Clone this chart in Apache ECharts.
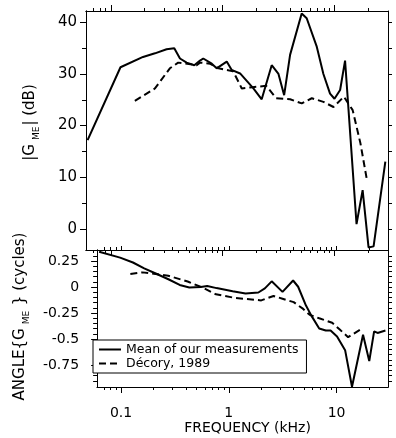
<!DOCTYPE html>
<html><head><meta charset="utf-8">
<script src="https://cdn.jsdelivr.net/npm/echarts@6/dist/echarts.min.js"></script>
<style>html,body{margin:0;padding:0;background:#fff}#c{width:396px;height:438px}</style>
</head><body><div id="c"></div>
<script>
// ---- data (frequency in kHz) ----
const gainFreqOurs = [0.062,0.122,0.194,0.248,0.315,0.369,0.415,0.476,0.557,0.627,0.67,0.798,0.883,1.086,1.2,1.43,1.88,2.23,2.74,3.15,3.54,4.0,5.08,5.63,6.9,7.94,9.1,9.97,11.2,12.4,15.7,17.8,20.1,22.3,28.4];
const gainOurs     = [17.2,31.3,33.3,34.0,34.8,35.0,33.0,32.2,31.7,32.6,33.0,32.0,31.1,32.4,30.8,30.1,27.2,25.1,31.7,30.0,25.9,33.7,41.7,40.8,35.4,30.0,26.2,25.2,26.9,32.6,0.9,7.5,-3.6,-3.4,13.0];
const gainFreqDecory = [0.164,0.248,0.337,0.40,0.585,0.627,0.77,0.916,1.24,1.48,1.76,2.45,3.0,4.0,5.08,6.25,7.94,9.77,12.1,14.5,17.0,19.5];
const gainDecory     = [24.8,27.2,31.1,32.2,31.7,32.2,32.0,31.1,30.5,27.2,27.4,27.7,25.3,25.1,24.3,25.3,24.6,23.6,25.6,23.0,16.6,9.3];
const phaseFreqOurs = [0.0626,0.098,0.129,0.164,0.21,0.275,0.35,0.43,0.55,0.63,0.77,1.086,1.43,1.88,2.16,2.5,3.15,3.95,4.4,5.2,5.85,6.9,7.94,8.8,10.1,12.0,13.9,17.6,20.1,22.3,24.0,28.4];
const phaseOurs     = [0.339,0.283,0.236,0.18,0.13,0.075,0.02,-0.005,0.0,0.01,-0.01,-0.04,-0.062,-0.052,-0.013,0.055,-0.046,0.063,0.003,-0.178,-0.277,-0.398,-0.418,-0.418,-0.474,-0.606,-0.958,-0.458,-0.711,-0.425,-0.441,-0.418];
const phaseFreqDecory = [0.122,0.158,0.209,0.274,0.415,0.585,0.76,1.15,2.0,2.6,3.15,4.0,4.9,5.63,6.9,9.1,10.7,12.8,16.6];
const phaseDecory     = [0.125,0.141,0.125,0.109,0.053,-0.01,-0.07,-0.105,-0.128,-0.086,-0.112,-0.145,-0.21,-0.267,-0.30,-0.343,-0.408,-0.481,-0.408];

// ---- ticks / labels ----
const freqTickLabels = [0.1, 1, 10];
const freqMinorTicks = [0.07,0.08,0.09,0.2,0.3,0.4,0.5,0.6,0.7,0.8,0.9,2,3,4,5,6,7,8,9,20];
const gainTickLabels = [0,10,20,30,40];
const gainMinorTicks = [5,15,25,35];
const gainRightTicks = [0,5,10,15,20,25,30,35,40];
const phaseTickLabels = [-0.75,-0.5,-0.25,0,0.25];
const phaseMinorTicks = [-0.9,-0.85,-0.8,-0.7,-0.65,-0.6,-0.55,-0.45,-0.4,-0.35,-0.3,-0.2,-0.15,-0.1,-0.05,0.05,0.1,0.15,0.2,0.3];
const phaseRightTicks = [-0.9,-0.85,-0.8,-0.75,-0.7,-0.65,-0.6,-0.55,-0.5,-0.45,-0.4,-0.35,-0.3,-0.25,-0.2,-0.15,-0.1,-0.05,0,0.05,0.1,0.15,0.2,0.25,0.3];

const FONT = 'DejaVu Sans';
const lg = Math.log10;
const fMin = lg(0.06), fMax = lg(30);
const pairs = (fs, vs) => fs.map((f, i) => [lg(f), vs[i]]);

function xAx(grid, pos, ticks, len, extra) {
  return Object.assign({
    type: 'value', gridIndex: grid, position: pos, min: fMin, max: fMax,
    axisLine: {show: true, onZero: false, lineStyle: {color: '#000', width: 1}},
    axisTick: {show: true, length: len, customValues: ticks.map(lg), lineStyle: {color: '#000', width: 1}},
    axisLabel: {show: false}, splitLine: {show: false}
  }, extra || {});
}
function yAx(grid, pos, mn, mx, ticks, len, extra) {
  return Object.assign({
    type: 'value', gridIndex: grid, position: pos, min: mn, max: mx,
    axisLine: {show: true, onZero: false, lineStyle: {color: '#000', width: 1}},
    axisTick: {show: true, length: len, customValues: ticks, lineStyle: {color: '#000', width: 1}},
    axisLabel: {show: false}, splitLine: {show: false}
  }, extra || {});
}

const gMin = -4.1, gMax = 42.2, pMin = -0.96, pMax = 0.356;
const titleRich = {
  m: {fontFamily: FONT, fontSize: 15, lineHeight: 24, color: '#000'},
  s: {fontFamily: FONT, fontSize: 9, lineHeight: 9, padding: [13, 1, 0, 4], color: '#000'}
};

const option = {
  animation: false,
  backgroundColor: '#fff',
  grid: [
    {left: 86, top: 11, width: 302, height: 239},
    {left: 86, top: 250, width: 302, height: 137}
  ],
  xAxis: [
    xAx(0, 'bottom', freqTickLabels, 6),
    xAx(0, 'bottom', freqMinorTicks, 3),
    xAx(0, 'top', freqTickLabels, 6),
    xAx(0, 'top', freqMinorTicks, 3),
    xAx(1, 'bottom', freqTickLabels, 6, {
      axisLabel: {show: true, customValues: freqTickLabels.map(lg), margin: 19,
        formatter: v => String(Math.round(Math.pow(10, v) * 1000) / 1000),
        color: '#000', fontFamily: FONT, fontSize: 14},
      name: 'FREQUENCY (kHz)', nameLocation: 'middle', nameGap: 34,
      nameTextStyle: {color: '#000', fontFamily: FONT, fontSize: 14, padding: [0, 0, 0, 10]}
    }),
    xAx(1, 'bottom', freqMinorTicks, 3),
    xAx(1, 'top', freqTickLabels, 4),
    xAx(1, 'top', freqMinorTicks, 3)
  ],
  yAxis: [
    yAx(0, 'left', gMin, gMax, gainTickLabels, 6, {
      axisLabel: {show: true, customValues: gainTickLabels, margin: 9, color: '#000', fontFamily: FONT, fontSize: 15},
      name: '{m||G}{s|ME}{m|| (dB)}', nameLocation: 'middle', nameGap: 44, nameRotate: 90,
      nameTextStyle: {color: '#000', fontFamily: FONT, fontSize: 15, lineHeight: 24, padding: [0, 0, 0, 16], rich: titleRich}
    }),
    yAx(0, 'left', gMin, gMax, gainMinorTicks, 4),
    yAx(0, 'right', gMin, gMax, gainRightTicks, 4),
    yAx(1, 'left', pMin, pMax, phaseTickLabels, 6, {
      axisLabel: {show: true, customValues: phaseTickLabels, margin: 18, color: '#000', fontFamily: FONT, fontSize: 14,
        formatter: v => String(Math.round(v * 100) / 100)},
      name: '{m|ANGLE{G}{s|ME} } (cycles)', nameLocation: 'middle', nameGap: 54, nameRotate: 90,
      nameTextStyle: {color: '#000', fontFamily: FONT, fontSize: 15, lineHeight: 24, padding: [0, 0, 0, 4], rich: titleRich}
    }),
    yAx(1, 'left', pMin, pMax, phaseMinorTicks, 4),
    yAx(1, 'right', pMin, pMax, phaseRightTicks, 4)
  ],
  legend: {
    data: ['Mean of our measurements', 'Décory, 1989'],
    orient: 'vertical', left: 93, top: 340,
    padding: [3, 8, 3, 5], itemGap: 1, itemWidth: 22, itemHeight: 12,
    borderColor: '#000', borderWidth: 1, borderRadius: 0, backgroundColor: '#fff',
    selectedMode: false,
    itemStyle: {opacity: 0},
    textStyle: {color: '#000', fontFamily: FONT, fontSize: 12.5}
  },
  series: [
    {name: 'Mean of our measurements', type: 'line', xAxisIndex: 0, yAxisIndex: 0, symbol: 'none',
     data: pairs(gainFreqOurs, gainOurs), lineStyle: {color: '#000', width: 2}, itemStyle: {color: '#000'}},
    {name: 'Décory, 1989', type: 'line', xAxisIndex: 0, yAxisIndex: 0, symbol: 'none',
     data: pairs(gainFreqDecory, gainDecory), lineStyle: {color: '#000', width: 2, type: [7, 4]}, itemStyle: {color: '#000'}},
    {name: 'Mean of our measurements', type: 'line', xAxisIndex: 4, yAxisIndex: 3, symbol: 'none',
     data: pairs(phaseFreqOurs, phaseOurs), lineStyle: {color: '#000', width: 2}, itemStyle: {color: '#000'}},
    {name: 'Décory, 1989', type: 'line', xAxisIndex: 4, yAxisIndex: 3, symbol: 'none',
     data: pairs(phaseFreqDecory, phaseDecory), lineStyle: {color: '#000', width: 2, type: [7, 4]}, itemStyle: {color: '#000'}}
  ]
};
const chart = echarts.init(document.getElementById('c'), null, {renderer: 'canvas'});
chart.setOption(option);
</script></body></html>
